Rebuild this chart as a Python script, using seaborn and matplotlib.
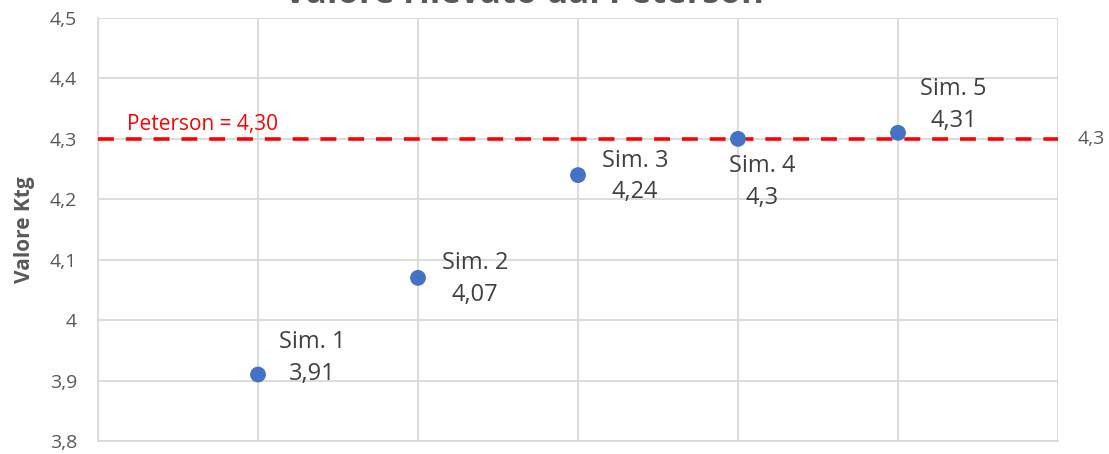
import matplotlib
matplotlib.use("Agg")
import matplotlib.pyplot as plt
import seaborn as sns
import pandas as pd

# Simulation runs and the measured Ktg value of each
sim_names = ["Sim. 1", "Sim. 2", "Sim. 3", "Sim. 4", "Sim. 5"]
sim_pos = [1, 2, 3, 4, 5]
ktg_values = [3.91, 4.07, 4.24, 4.30, 4.31]
value_labels = ["3,91", "4,07", "4,24", "4,3", "4,31"]

# Reference value from the Peterson method
peterson_value = 4.30
peterson_label = "Peterson = 4,30"
peterson_tick = "4,3"

y_ticks = [3.8, 3.9, 4.0, 4.1, 4.2, 4.3, 4.4, 4.5]
y_tick_labels = ["3,8", "3,9", "4", "4,1", "4,2", "4,3", "4,4", "4,5"]

title = "Valore rilevato dal Peterson"
y_title = "Valore Ktg"

# label offsets (points) of each two-line label's left edge / vertical centre from its marker
label_offsets = [(15, 12), (17, -1), (17, -1), (-6.5, -31), (16, 20)]

sns.set_theme(style="white")
plt.rcParams["font.family"] = ["Open Sans", "DejaVu Sans"]

grey = "#595959"
grid = "#d9d9d9"
blue = "#4472C4"
red = "#FF0000"

fig = plt.figure(figsize=(11.09, 4.54), dpi=100)
ax = fig.add_axes([98 / 1109, 1 - 441 / 454, (1058 - 98) / 1109, (441 - 18) / 454])

df = pd.DataFrame({"sim": sim_pos, "ktg": ktg_values})
sns.scatterplot(data=df, x="sim", y="ktg", ax=ax, color=blue, s=130,
                edgecolor="none", zorder=4)

ax.axhline(peterson_value, color=red, lw=2.6, ls=(0, (4.4, 3.3)), zorder=3)

ax.set_xlim(0, 6)
ax.set_ylim(3.8, 4.5)
ax.set_xticks(range(0, 7))
ax.set_xticklabels([])
ax.set_yticks(y_ticks)
ax.set_yticklabels(y_tick_labels, color=grey, fontsize=14)
ax.tick_params(axis="both", length=0)
ax.tick_params(axis="y", pad=15)
ax.grid(True, color=grid, lw=1.3)
ax.set_axisbelow(True)
for side in ["top", "right"]:
    ax.spines[side].set_visible(False)
for side in ["left", "bottom"]:
    ax.spines[side].set_color(grid)
    ax.spines[side].set_linewidth(1.3)

ax.set_xlabel("")
ax.set_ylabel(y_title, color=grey, fontsize=15, fontweight="bold")
ax.yaxis.set_label_coords(-0.066, 0.5)

for x, y, name, val, (dx, dy) in zip(sim_pos, ktg_values, sim_names, value_labels, label_offsets):
    ax.annotate(f"{name}\n{val}", (x, y), xytext=(dx, dy), textcoords="offset points",
                ha="left", va="center", color="#404040", fontsize=17,
                linespacing=1.44, multialignment="center")

ax.annotate(peterson_label, (0, peterson_value), xytext=(21, 10), textcoords="offset points",
            ha="left", va="center", color=red, fontsize=15)
ax.annotate(peterson_tick, (6, peterson_value), xytext=(14, 0), textcoords="offset points",
            ha="left", va="center", color=grey, fontsize=14, annotation_clip=False)

fig.text(0.472, 1 - 3 / 454, title, ha="center", va="baseline", fontsize=25,
         fontweight="bold", color=grey)

fig.savefig("out.png", dpi=100)
